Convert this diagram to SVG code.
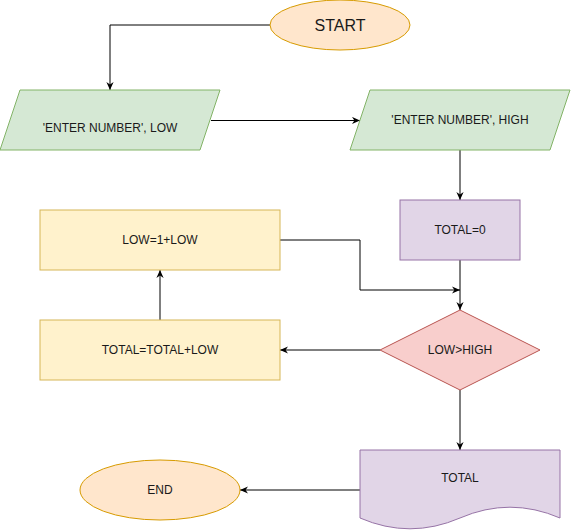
<svg xmlns="http://www.w3.org/2000/svg" width="571" height="531" viewBox="0 0 571 531">
<style>
text{font-family:"Liberation Sans",Arial,Helvetica,sans-serif;font-size:12px;fill:#1a1a1a;text-anchor:middle}
.term{fill:#ffe6cc;stroke:#d79b00}
.io{fill:#d5e8d4;stroke:#82b366}
.proc{fill:#fff2cc;stroke:#d6b656}
.purp{fill:#e1d5e7;stroke:#9673a6}
.dec{fill:#f8cecc;stroke:#b85450}
.edge{fill:none;stroke:#000;stroke-width:1;marker-end:url(#arr)}
</style>
<defs>
<marker id="arr" viewBox="0 0 10 10" refX="10" refY="5" markerWidth="8" markerHeight="8" orient="auto" markerUnits="userSpaceOnUse">
<path d="M0,0.5 L10,5 L0,9.5 L3,5 Z" fill="#000"/>
</marker>
</defs>
<g id="connectors">
<path class="edge" d="M270,25 H110 V90"/>
<path class="edge" d="M211,120.5 H360"/>
<path class="edge" d="M460,150 V200"/>
<path class="edge" d="M460,260 V310"/>
<path class="edge" d="M280,240 H360 V290 H460"/>
<path class="edge" d="M380,350 H280"/>
<path class="edge" d="M160,320 V270"/>
<path class="edge" d="M460,390 V450"/>
<path class="edge" d="M360,490 H240"/>
</g>
<g id="start">
<ellipse class="term" cx="340" cy="25" rx="70" ry="25"/>
<text x="340" y="31" style="font-size:16px">START</text>
</g>
<g id="input-low">
<path class="io" d="M20,90 H220 L200,150 H0 Z"/>
<text x="110" y="132">'ENTER NUMBER', LOW</text>
</g>
<g id="input-high">
<path class="io" d="M370,90 H570 L550,150 H350 Z"/>
<text x="460" y="124">'ENTER NUMBER', HIGH</text>
</g>
<g id="total0">
<rect class="purp" x="400" y="200" width="120" height="60"/>
<text x="460" y="234">TOTAL=0</text>
</g>
<g id="low-inc">
<rect class="proc" x="40" y="210" width="240" height="60"/>
<text x="160" y="244">LOW=1+LOW</text>
</g>
<g id="total-add">
<rect class="proc" x="40" y="320" width="240" height="60"/>
<text x="160" y="354">TOTAL=TOTAL+LOW</text>
</g>
<g id="decision">
<path class="dec" d="M460,310 L540,350 L460,390 L380,350 Z"/>
<text x="460" y="354">LOW&gt;HIGH</text>
</g>
<g id="output">
<path class="purp" d="M360,450 H560 V518 Q510,496.4 460,518 Q410,539.6 360,518 Z"/>
<text x="460" y="482">TOTAL</text>
</g>
<g id="end">
<ellipse class="term" cx="160" cy="490" rx="80" ry="30"/>
<text x="160" y="494">END</text>
</g>
</svg>
